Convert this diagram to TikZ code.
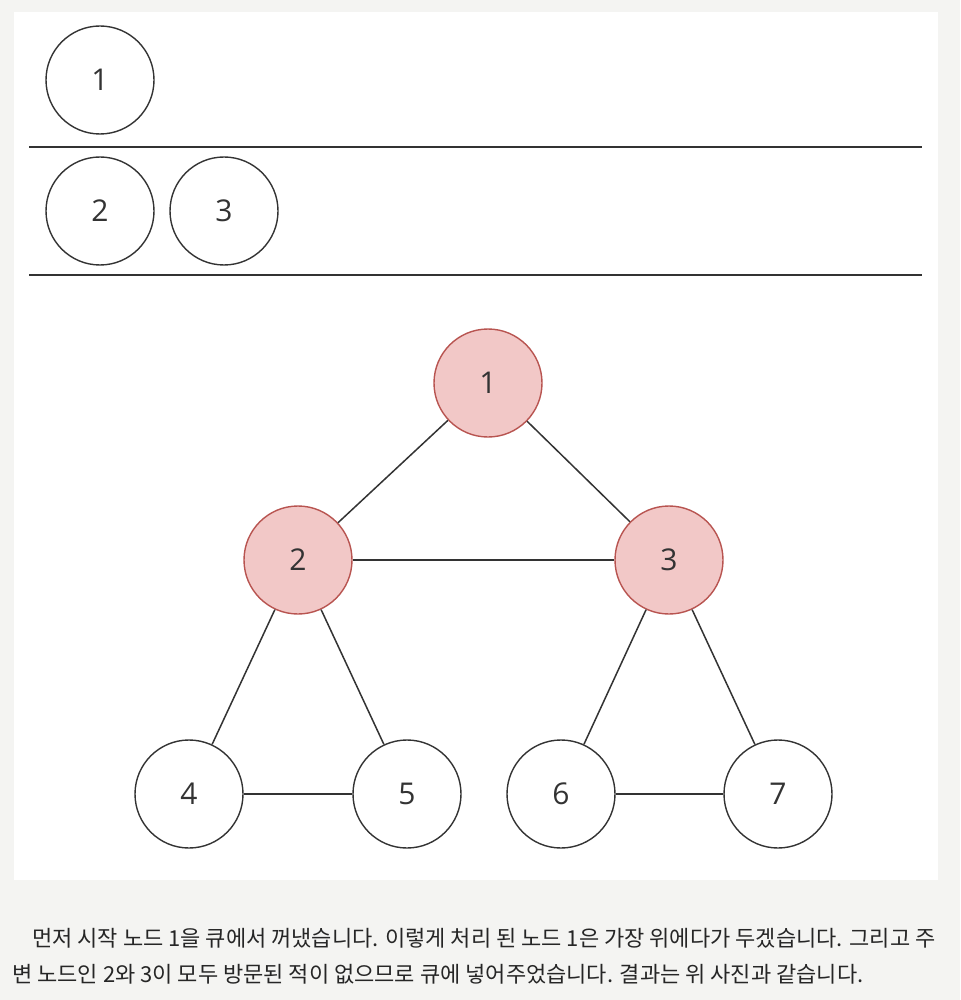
\documentclass[tikz,border=0pt]{standalone}
\usepackage{fontspec}
\setmainfont{Open Sans}
\newfontfamily\kr{Noto Sans CJK KR}
\definecolor{bgpaper}{HTML}{F4F4F2}
\definecolor{pinkfill}{HTML}{F2C8C7}
\definecolor{pinkline}{HTML}{B85450}
\definecolor{ink}{HTML}{333333}
\begin{document}
\begin{tikzpicture}[x=1pt,y=-1pt,
  vert/.style={circle,draw=ink,line width=1.4pt,minimum size=108pt,inner sep=0pt,font=\fontsize{30}{30}\selectfont,text=ink,fill=white},
  visited/.style={vert,fill=pinkfill,draw=pinkline},
  edge/.style={draw=ink,line width=1.5pt},
  sep/.style={draw=ink,line width=1.5pt},
  para/.style={anchor=base west,inner sep=0pt,font=\kr\fontsize{22}{22}\selectfont,text=black!85}]
\fill[bgpaper] (0,0) rectangle (960,1000);
\useasboundingbox (0,0) rectangle (960,1000);
\fill[white] (14,12) rectangle (938,880);
% queue
\node[vert] (q1) at (100,80) {1};
\coordinate (s1a) at (29,147);
\coordinate (s1b) at (922,147);
\draw[sep] (s1a) -- (s1b);
\node[vert] (q2) at (100,211) {2};
\node[vert] (q3) at (224,211) {3};
\coordinate (s2a) at (29,275);
\coordinate (s2b) at (922,275);
\draw[sep] (s2a) -- (s2b);
% graph
\node[visited] (n1) at (488,383) {1};
\node[visited] (n2) at (298,560) {2};
\node[visited] (n3) at (669,560) {3};
\node[vert] (n4) at (189,794) {4};
\node[vert] (n5) at (407,794) {5};
\node[vert] (n6) at (561,794) {6};
\node[vert] (n7) at (778,794) {7};
\draw[edge] (n1) -- (n2);
\draw[edge] (n1) -- (n3);
\draw[edge] (n2) -- (n3);
\draw[edge] (n2) -- (n4);
\draw[edge] (n2) -- (n5);
\draw[edge] (n3) -- (n6);
\draw[edge] (n3) -- (n7);
\draw[edge] (n4) -- (n5);
\draw[edge] (n6) -- (n7);
% text
\node[para] (t1) at (32,946) {먼저 시작 노드 1을 큐에서 꺼냈습니다. 이렇게 처리 된 노드 1은 가장 위에다가 두겠습니다. 그리고 주};
\node[para] (t2) at (12,982) {변 노드인 2와 3이 모두 방문된 적이 없으므로 큐에 넣어주었습니다. 결과는 위 사진과 같습니다.};
\end{tikzpicture}
\end{document}
